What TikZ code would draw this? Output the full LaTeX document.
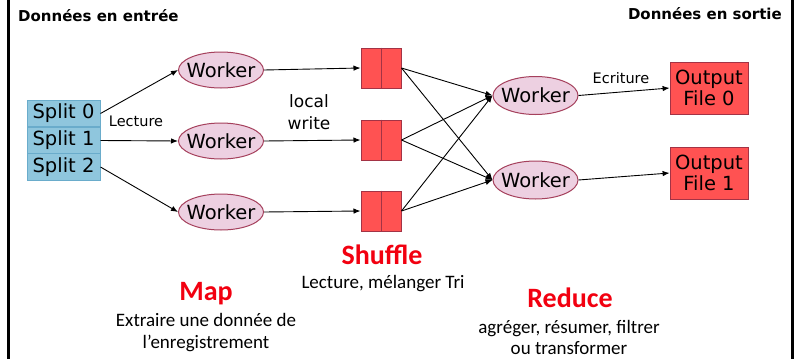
\documentclass[tikz,border=0pt]{standalone}
\usepackage{fontspec}
\usetikzlibrary{arrows.meta,shapes.geometric}
\newfontfamily\vf{DejaVu Sans}
\newfontfamily\cf{Carlito}
\definecolor{splitfill}{HTML}{8FC6DD}
\definecolor{splitdraw}{HTML}{6AACCB}
\definecolor{wfill}{HTML}{EDD0E1}
\definecolor{wdraw}{HTML}{A5405C}
\definecolor{bfill}{HTML}{FF5252}
\definecolor{bdraw}{HTML}{A33345}
\definecolor{tred}{HTML}{F20010}
\tikzset{
  splitbox/.style={rectangle, draw=splitdraw, fill=splitfill, line width=1pt, minimum width=73pt, minimum height=26.5pt, inner sep=0pt, font=\vf\fontsize{19.5}{22}\selectfont},
  workerbox/.style={ellipse, draw=wdraw, fill=wfill, line width=1pt, minimum width=85pt, minimum height=36pt, inner ysep=0pt, inner xsep=-5pt, font=\vf\fontsize{19.5}{22}\selectfont},
  bufbox/.style={rectangle, draw=bdraw, fill=bfill, line width=1pt, minimum width=40pt, minimum height=40pt, inner sep=0pt},
  outbox/.style={rectangle, draw=bdraw, fill=bfill, line width=0.8pt, minimum width=78pt, minimum height=52pt, inner sep=0pt, align=center, font=\vf\fontsize{19.5}{21}\selectfont},
  conn/.style={draw=black, line width=0.9pt, -{Latex[length=7pt,width=5.5pt]}},
  lbl/.style={inner sep=0pt, font=\vf\fontsize{14.5}{17}\selectfont},
  ttl/.style={inner sep=0pt, font=\vf\bfseries\fontsize{15}{17}\selectfont},
  phase/.style={inner sep=0pt, text=tred, font=\cf\bfseries\fontsize{28}{30}\selectfont},
  desc/.style={inner sep=0pt, align=center, font=\cf\fontsize{19}{21.5}\selectfont}
}
\begin{document}
\begin{tikzpicture}[x=1pt,y=-1pt]
\useasboundingbox (0,0) rectangle (800,359);
\fill[white] (0,0) rectangle (800,359);
% frame sides
\draw[line width=3pt] (8.5,0) -- (8.5,359);
\draw[line width=3pt] (792.5,0) -- (792.5,359);
% titles
\node[ttl, anchor=west] (tin) at (18,16) {Données en entrée};
\node[ttl, anchor=east] (tout) at (782,14) {Données en sortie};
% splits
\node[splitbox] (s0) at (63.5,113.5) {Split 0};
\node[splitbox] (s1) at (63.5,140.5) {Split 1};
\node[splitbox] (s2) at (63.5,167) {Split 2};
% map workers
\node[workerbox] (w1) at (221,70) {Worker};
\node[workerbox] (w2) at (221,141) {Worker};
\node[workerbox] (w3) at (221,212) {Worker};
% buffers
\node[bufbox] (b1) at (381,68) {};
\node[bufbox] (b2) at (381,140) {};
\node[bufbox] (b3) at (381,211) {};
\foreach \b in {b1,b2,b3} \draw[bdraw, line width=1pt] (\b.north) -- (\b.south);
% reduce workers
\node[workerbox, minimum height=38pt] (r1) at (535.5,95.5) {Worker};
\node[workerbox, minimum height=38pt] (r2) at (535.5,180) {Worker};
% outputs
\node[outbox] (o0) at (709,88) {Output\\File 0};
\node[outbox] (o1) at (709,173) {Output\\File 1};
% connectors
\draw[conn] (s0.east) -- (w1.west);
\draw[conn] (s1.east) -- (w2.west);
\draw[conn] (s2.east) -- (w3.west);
\draw[conn] (w1.east) -- (b1.west);
\draw[conn] (w2.east) -- (b2.west);
\draw[conn] (w3.east) -- (b3.west);
\foreach \b in {b1,b2,b3} {
  \draw[conn] (\b.east) -- (r1.west);
  \draw[conn] (\b.east) -- (r2.west);
}
\draw[conn] (r1.east) -- (o0.west);
\draw[conn] (r2.east) -- (o1.west);
% labels
\node[lbl] (llec) at (136,121.5) {Lecture};
\node[inner sep=0pt, align=center, font=\vf\fontsize{17}{22}\selectfont] (lw) at (309,112) {local\\write};
\node[lbl] (lecr) at (621,78) {Ecriture};
% phases
\node[phase] (pshuf) at (382,255) {Shuffle};
\node[desc] (dshuf) at (383,284) {Lecture, mélanger Tri};
\node[phase] (pmap) at (206,294) {Map};
\node[desc] (dmap) at (206,332.5) {Extraire une donnée de\\l’enregistrement};
\node[phase] (pred) at (570,298) {Reduce};
\node[desc] (dred) at (569,337.5) {agréger, résumer, filtrer\\ou transformer};
\end{tikzpicture}
\end{document}
